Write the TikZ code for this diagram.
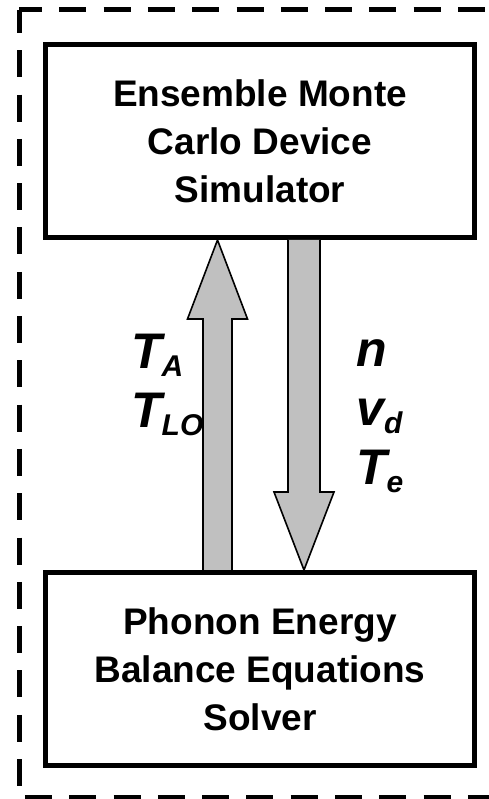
\documentclass[tikz,border=0pt]{standalone}
\usepackage{fontspec}
\setmainfont{Liberation Sans}
\usetikzlibrary{positioning,calc}
\definecolor{shaftgray}{RGB}{192,192,192}
\newcommand{\vsub}[1]{\raisebox{-8pt}{\fontsize{30}{30}\selectfont #1}}

\begin{document}
\begin{tikzpicture}[
    x=1pt, y=1pt,
    every node/.style={align=center},
    box/.style={rectangle, draw=black, line width=5pt, fill=white, minimum width=429pt, minimum height=193pt, inner sep=0pt, font=\fontsize{37}{48}\selectfont\bfseries},
    fatarrow/.style={draw=black, line width=1.6pt, fill=shaftgray, line join=miter},
    varlabel/.style={align=left, inner sep=0pt, font=\fontsize{50}{59}\selectfont\bfseries\itshape},
    frame/.style={draw=black, line width=5pt, dash pattern=on 27pt off 17.3pt, dash phase=4pt}
]
    \useasboundingbox (0,0) rectangle (489,799);

    % dashed outer frame, open on the right
    \coordinate (corner) at (19,789);
    \draw[frame] (corner) -- (500,789);
    \draw[frame] (corner) -- (19,1.5) -- (500,1.5);

    \node[box] (mc) at (260,658) {Ensemble Monte\\Carlo Device\\Simulator};
    \node[box, below=330pt of mc] (pebe) {Phonon Energy\\Balance Equations\\Solver};

    \coordinate (upx) at (217.5,0);
    \coordinate (dnx) at (304,0);

    % temperatures back to the simulator
    \draw[fatarrow] ($(pebe.north -| upx)+(-14.5,0)$) -- ($(mc.south -| upx)+(-14.5,-79)$) -- ($(mc.south -| upx)+(-30,-79)$) -- (mc.south -| upx) -- ($(mc.south -| upx)+(30,-79)$) -- ($(mc.south -| upx)+(14.5,-79)$) -- ($(pebe.north -| upx)+(14.5,0)$);
    % carrier quantities down to the solver
    \draw[fatarrow] ($(mc.south -| dnx)+(-16,0)$) -- ($(pebe.north -| dnx)+(-16,78)$) -- ($(pebe.north -| dnx)+(-30,78)$) -- (pebe.north -| dnx) -- ($(pebe.north -| dnx)+(30,78)$) -- ($(pebe.north -| dnx)+(16,78)$) -- ($(mc.south -| dnx)+(16,0)$);

    % base anchor sits on the last line
    \node[varlabel, anchor=base west] (tvars) at (131,371) {T\vsub{A}\\T\vsub{LO}};
    \node[varlabel, anchor=base west] (cvars) at (356,314) {n\\v\vsub{d}\\T\vsub{e}};
\end{tikzpicture}
\end{document}
